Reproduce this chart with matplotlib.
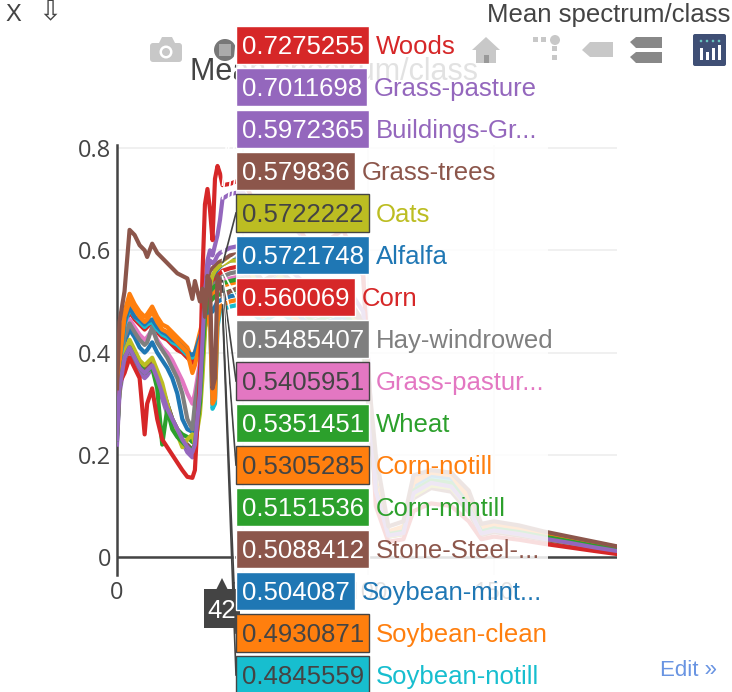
import matplotlib
matplotlib.use("Agg")
import matplotlib.pyplot as plt
from matplotlib.patches import Rectangle, Polygon, Circle, FancyBboxPatch
from matplotlib.lines import Line2D
from matplotlib.transforms import IdentityTransform

W, H = 732, 692

# band index of every sample point
bands = [0, 1, 3, 5, 7, 9, 11, 12, 14, 16, 18, 20, 22, 24, 26, 28, 30, 31, 33, 34,
         35, 36, 37, 38, 39, 40, 41, 42,
         45, 50, 58, 65, 78, 90, 98, 103, 108, 114, 118, 125, 133, 140, 145, 150,
         160, 170, 180, 190, 199]

alfalfa = [0.25, 0.35, 0.42, 0.445, 0.43, 0.41, 0.40, 0.405, 0.42, 0.40, 0.385, 0.37, 0.35, 0.32,
           0.27, 0.25, 0.245, 0.26, 0.33, 0.38, 0.45, 0.50, 0.53, 0.545, 0.555, 0.562, 0.568, 0.5721748,
           0.58, 0.585, 0.53, 0.55, 0.49, 0.51, 0.45, 0.13, 0.042, 0.048, 0.125, 0.145, 0.14, 0.098,
           0.048, 0.054, 0.047, 0.038, 0.03, 0.021, 0.014]
corn_notill = [0.30, 0.40, 0.48, 0.515, 0.495, 0.48, 0.47, 0.475, 0.49, 0.47, 0.455, 0.45, 0.44, 0.43,
               0.42, 0.41, 0.385, 0.40, 0.44, 0.46, 0.48, 0.50, 0.52, 0.51, 0.52, 0.525, 0.528, 0.5305285,
               0.535, 0.54, 0.50, 0.52, 0.47, 0.49, 0.44, 0.15, 0.05, 0.06, 0.15, 0.17, 0.165, 0.12,
               0.06, 0.066, 0.058, 0.047, 0.038, 0.028, 0.02]
corn_mintill = [0.24, 0.34, 0.40, 0.42, 0.40, 0.38, 0.37, 0.375, 0.385, 0.36, 0.33, 0.30, 0.27, 0.25,
                0.24, 0.235, 0.225, 0.23, 0.30, 0.38, 0.46, 0.49, 0.50, 0.505, 0.51, 0.512, 0.514, 0.5151536,
                0.52, 0.525, 0.48, 0.50, 0.45, 0.47, 0.42, 0.14, 0.048, 0.054, 0.14, 0.158, 0.152, 0.108,
                0.054, 0.06, 0.052, 0.042, 0.033, 0.024, 0.016]
corn = [0.27, 0.37, 0.45, 0.48, 0.465, 0.455, 0.445, 0.45, 0.46, 0.44, 0.43, 0.425, 0.415, 0.405,
        0.40, 0.39, 0.38, 0.39, 0.42, 0.445, 0.47, 0.50, 0.52, 0.53, 0.54, 0.55, 0.555, 0.560069,
        0.565, 0.57, 0.52, 0.55, 0.49, 0.51, 0.46, 0.14, 0.045, 0.05, 0.13, 0.15, 0.145, 0.10,
        0.05, 0.055, 0.048, 0.038, 0.03, 0.022, 0.015]
grass_pasture = [0.22, 0.32, 0.38, 0.405, 0.385, 0.36, 0.35, 0.355, 0.37, 0.345, 0.31, 0.28, 0.26, 0.245,
                 0.225, 0.205, 0.195, 0.21, 0.30, 0.40, 0.52, 0.58, 0.60, 0.59, 0.61, 0.63, 0.66, 0.7011698,
                 0.71, 0.715, 0.65, 0.68, 0.60, 0.62, 0.55, 0.13, 0.04, 0.045, 0.12, 0.14, 0.13, 0.09,
                 0.044, 0.05, 0.043, 0.034, 0.026, 0.018, 0.011]
grass_trees = [0.24, 0.33, 0.39, 0.41, 0.39, 0.37, 0.36, 0.37, 0.38, 0.355, 0.33, 0.30, 0.27, 0.25,
               0.23, 0.22, 0.21, 0.22, 0.30, 0.38, 0.48, 0.54, 0.56, 0.565, 0.57, 0.575, 0.578, 0.579836,
               0.59, 0.595, 0.54, 0.56, 0.50, 0.52, 0.46, 0.12, 0.04, 0.045, 0.115, 0.135, 0.128, 0.088,
               0.043, 0.049, 0.042, 0.034, 0.026, 0.018, 0.011]
grass_pasture_mowed = [0.27, 0.37, 0.44, 0.465, 0.45, 0.435, 0.425, 0.43, 0.445, 0.425, 0.41, 0.40, 0.385, 0.365,
                       0.345, 0.32, 0.30, 0.32, 0.38, 0.41, 0.46, 0.50, 0.52, 0.525, 0.53, 0.535, 0.538, 0.5405951,
                       0.545, 0.55, 0.50, 0.52, 0.46, 0.48, 0.42, 0.13, 0.045, 0.05, 0.13, 0.15, 0.145, 0.10,
                       0.05, 0.056, 0.049, 0.04, 0.031, 0.023, 0.015]
hay_windrowed = [0.26, 0.36, 0.43, 0.457, 0.44, 0.425, 0.415, 0.42, 0.45, 0.42, 0.405, 0.39, 0.37, 0.35,
                 0.32, 0.27, 0.25, 0.30, 0.37, 0.40, 0.46, 0.50, 0.52, 0.53, 0.535, 0.54, 0.545, 0.5485407,
                 0.555, 0.56, 0.51, 0.53, 0.47, 0.49, 0.43, 0.13, 0.045, 0.052, 0.135, 0.155, 0.15, 0.105,
                 0.052, 0.058, 0.05, 0.041, 0.032, 0.023, 0.016]
oats = [0.24, 0.33, 0.40, 0.425, 0.405, 0.385, 0.375, 0.38, 0.39, 0.365, 0.34, 0.30, 0.26, 0.24,
        0.215, 0.23, 0.24, 0.22, 0.28, 0.35, 0.44, 0.50, 0.53, 0.55, 0.56, 0.565, 0.57, 0.5722222,
        0.58, 0.58, 0.52, 0.55, 0.48, 0.50, 0.44, 0.12, 0.04, 0.046, 0.12, 0.14, 0.135, 0.095,
        0.046, 0.052, 0.045, 0.036, 0.028, 0.02, 0.013]
soybean_notill = [0.28, 0.37, 0.455, 0.485, 0.47, 0.46, 0.45, 0.455, 0.46, 0.445, 0.435, 0.43, 0.42, 0.415,
                  0.405, 0.395, 0.39, 0.395, 0.42, 0.435, 0.45, 0.47, 0.47, 0.29, 0.30, 0.45, 0.48, 0.4845559,
                  0.49, 0.495, 0.46, 0.48, 0.43, 0.45, 0.40, 0.14, 0.048, 0.055, 0.14, 0.158, 0.152, 0.108,
                  0.054, 0.06, 0.052, 0.042, 0.033, 0.024, 0.016]
soybean_mintill = [0.29, 0.38, 0.46, 0.49, 0.47, 0.465, 0.455, 0.46, 0.465, 0.45, 0.44, 0.435, 0.425, 0.42,
                   0.41, 0.40, 0.395, 0.40, 0.43, 0.445, 0.46, 0.48, 0.49, 0.48, 0.49, 0.50, 0.502, 0.504087,
                   0.51, 0.515, 0.48, 0.50, 0.45, 0.47, 0.42, 0.14, 0.048, 0.055, 0.14, 0.16, 0.155, 0.11,
                   0.055, 0.06, 0.053, 0.043, 0.034, 0.025, 0.017]
soybean_clean = [0.28, 0.38, 0.47, 0.50, 0.485, 0.47, 0.46, 0.465, 0.48, 0.46, 0.445, 0.44, 0.43, 0.42,
                 0.41, 0.40, 0.36, 0.375, 0.42, 0.435, 0.45, 0.47, 0.47, 0.30, 0.31, 0.46, 0.49, 0.4930871,
                 0.50, 0.505, 0.47, 0.49, 0.44, 0.46, 0.41, 0.14, 0.05, 0.058, 0.145, 0.165, 0.16, 0.115,
                 0.058, 0.064, 0.056, 0.045, 0.036, 0.027, 0.019]
wheat = [0.23, 0.33, 0.39, 0.41, 0.39, 0.37, 0.36, 0.365, 0.37, 0.33, 0.22, 0.29, 0.25, 0.235,
         0.225, 0.215, 0.21, 0.22, 0.30, 0.39, 0.47, 0.50, 0.52, 0.525, 0.53, 0.532, 0.534, 0.5351451,
         0.54, 0.545, 0.50, 0.52, 0.46, 0.48, 0.43, 0.13, 0.045, 0.05, 0.13, 0.15, 0.145, 0.10,
         0.05, 0.056, 0.049, 0.04, 0.031, 0.022, 0.015]
woods = [0.25, 0.34, 0.36, 0.39, 0.37, 0.35, 0.24, 0.30, 0.33, 0.27, 0.23, 0.215, 0.20, 0.185,
         0.17, 0.157, 0.155, 0.17, 0.35, 0.55, 0.69, 0.72, 0.68, 0.62, 0.74, 0.765, 0.75, 0.7275255,
         0.73, 0.74, 0.66, 0.70, 0.60, 0.64, 0.55, 0.10, 0.03, 0.035, 0.09, 0.105, 0.10, 0.07,
         0.035, 0.04, 0.034, 0.026, 0.019, 0.012, 0.006]
buildings = [0.23, 0.33, 0.39, 0.41, 0.39, 0.37, 0.36, 0.365, 0.375, 0.35, 0.32, 0.29, 0.27, 0.25,
             0.23, 0.215, 0.205, 0.22, 0.32, 0.42, 0.52, 0.56, 0.58, 0.575, 0.58, 0.59, 0.595, 0.5972365,
             0.605, 0.61, 0.56, 0.58, 0.52, 0.54, 0.48, 0.13, 0.042, 0.047, 0.125, 0.145, 0.138, 0.095,
             0.046, 0.052, 0.045, 0.036, 0.028, 0.019, 0.012]
stone_steel = [0.33, 0.46, 0.52, 0.64, 0.63, 0.61, 0.60, 0.587, 0.613, 0.595, 0.585, 0.575, 0.565, 0.555,
               0.55, 0.545, 0.505, 0.54, 0.50, 0.525, 0.47, 0.55, 0.54, 0.33, 0.35, 0.55, 0.54, 0.5088412,
               0.52, 0.53, 0.50, 0.51, 0.48, 0.49, 0.46, 0.20, 0.06, 0.07, 0.16, 0.17, 0.165, 0.13,
               0.065, 0.07, 0.062, 0.05, 0.04, 0.03, 0.021]

class_names = ["Alfalfa", "Corn-notill", "Corn-mintill", "Corn", "Grass-pasture", "Grass-trees",
               "Grass-pasture-mowed", "Hay-windrowed", "Oats", "Soybean-notill", "Soybean-mintill",
               "Soybean-clean", "Wheat", "Woods", "Buildings-Grass-Trees-Drives", "Stone-Steel-Towers"]
series = [alfalfa, corn_notill, corn_mintill, corn, grass_pasture, grass_trees, grass_pasture_mowed,
          hay_windrowed, oats, soybean_notill, soybean_mintill, soybean_clean, wheat, woods,
          buildings, stone_steel]

palette = ["#1f77b4", "#ff7f0e", "#2ca02c", "#d62728", "#9467bd",
           "#8c564b", "#e377c2", "#7f7f7f", "#bcbd22", "#17becf"]
light_bg = {"#ff7f0e", "#e377c2", "#bcbd22", "#17becf"}

hover_band = 42
x_ticks = [0, 50, 100, 150]
y_ticks = [0, 0.2, 0.4, 0.6, 0.8]
y_tick_labels = ["0", "0.2", "0.4", "0.6", "0.8"]

FONT = ["Liberation Sans", "DejaVu Sans"]
DARK = "#444444"
ident = IdentityTransform()


def short_name(name):
    return name[:12] + "..." if len(name) > 14 else name


fig = plt.figure(figsize=(W / 100, H / 100), dpi=100)
ax = fig.add_axes([117 / W, 1 - 575 / H, 500 / W, 430 / H])

for i, (name, vals) in enumerate(zip(class_names, series)):
    ax.plot(bands, vals, color=palette[i % 10], lw=3.0, solid_joinstyle="round", zorder=3)

ax.set_xlim(0, 199)
ax.set_ylim(-0.035, 0.806)
ax.set_xticks(x_ticks)
ax.set_xticklabels([str(t) for t in x_ticks])
ax.set_yticks(y_ticks)
ax.set_yticklabels(y_tick_labels)
ax.tick_params(length=0, labelsize=17, labelcolor=DARK, pad=4)
for lab in ax.get_xticklabels() + ax.get_yticklabels():
    lab.set_family("Open Sans")
ax.grid(True, color="#eeeeee", lw=1.2, zorder=0)
ax.axhline(0, color=DARK, lw=1.8, zorder=2)
for s in ["top", "right", "bottom"]:
    ax.spines[s].set_visible(False)
ax.spines["left"].set_color(DARK)
ax.spines["left"].set_linewidth(1.8)

# titles and small top texts
fig.text(190, H - 72, "Mean spectrum/class", transform=ident, fontsize=22, color=DARK,
         family=FONT, va="center", zorder=4)
fig.text(487, H - 15, "Mean spectrum/class", transform=ident, fontsize=18.5, color=DARK,
         family=FONT, va="center", zorder=4)
fig.text(5, H - 15, "X", transform=ident, fontsize=17, color=DARK, family=FONT, va="center")
fig.text(38, H - 13, "\u21e9", transform=ident, fontsize=20, color=DARK, family=FONT, va="center")

# faded area behind the hover names
fig.add_artist(Rectangle((236, 0), 312, H - 27, transform=ident, facecolor="white",
                         alpha=0.85, edgecolor="none", zorder=5))

# modebar icons
def P(pts, col, z=5.5):
    fig.add_artist(Polygon([(x, H - y) for x, y in pts], closed=True, transform=ident,
                           facecolor=col, edgecolor="none", zorder=z))

fig.add_artist(FancyBboxPatch((150, H - 62), 32, 19, boxstyle="round,pad=0,rounding_size=3",
                              transform=ident, facecolor="#c8c8c8", edgecolor="none", zorder=5.5))
P([(159, 43), (162, 37), (172, 37), (175, 43)], "#c8c8c8")
fig.add_artist(Circle((166, H - 52), 6.5, transform=ident, facecolor="white", zorder=5.6))
fig.add_artist(Circle((166, H - 52), 4, transform=ident, facecolor="#c8c8c8", zorder=5.7))
fig.add_artist(Circle((225, H - 50), 11, transform=ident, facecolor="#777777", zorder=5.5))
P([(219, 44), (231, 44), (231, 56), (219, 56)], "#aaaaaa", 5.6)
P([(472, 50), (486, 37), (500, 50)], "#c8c8c8")
P([(476, 50), (496, 50), (496, 63), (476, 63)], "#c8c8c8")
P([(484, 55), (489, 55), (489, 63), (484, 63)], "#999999", 5.6)
for x0, y0 in [(533, 37), (541, 37), (552, 46), (552, 55)]:
    P([(x0, y0), (x0 + 5, y0), (x0 + 5, y0 + 5), (x0, y0 + 5)], "#c8c8c8")
fig.add_artist(Circle((555, H - 40), 5, transform=ident, facecolor="#c8c8c8", zorder=5.5))
P([(582, 50), (590, 42), (613, 42), (613, 57), (590, 57)], "#c8c8c8")
P([(630, 42), (636, 37), (662, 37), (662, 48), (636, 48)], "#888888")
P([(630, 57), (636, 52), (662, 52), (662, 63), (636, 63)], "#888888")
fig.add_artist(FancyBboxPatch((693, H - 66), 33, 32, boxstyle="round,pad=0,rounding_size=2",
                              transform=ident, facecolor="#3f4f75", edgecolor="none", zorder=5.5))
for k, x0 in enumerate([700, 706, 712, 718]):
    fig.add_artist(Circle((x0 + 1, H - 41), 1.3, transform=ident, facecolor="#69c5c0", zorder=5.6))
    top = [48, 52, 48, 45][k]
    P([(x0, top), (x0 + 2.5, top), (x0 + 2.5, 60), (x0, 60)], "white", 5.6)

# x hover label
P([(216, 590), (222, 578), (228, 590)], DARK, 5.8)
P([(204, 589), (240, 589), (240, 628), (204, 628)], DARK, 5.8)
fig.text(207, H - 618, str(hover_band), transform=ident, fontsize=18.5, color="white",
         family=FONT, va="baseline", zorder=5.9)

# y hover labels, sorted by value
idx = bands.index(hover_band)
order = sorted(range(len(series)), key=lambda i: -series[i][idx])
fig.canvas.draw()
renderer = fig.canvas.get_renderer()
for row, i in enumerate(order):
    col = palette[i % 10]
    v = series[i][idx]
    yc = 45 + 42 * row
    dark_text = col in light_bg
    tcol = DARK if dark_text else "white"
    border = DARK if dark_text else "white"
    t = fig.text(242, H - yc - 9, f"{v:.7g}", transform=ident, fontsize=18.5, color=tcol,
                 family=FONT, va="baseline", zorder=7)
    w = t.get_window_extent(renderer).width
    x1 = 242 + w + 5
    fig.add_artist(Rectangle((236, H - yc - 19), x1 - 236, 38, transform=ident, facecolor=col,
                             edgecolor=border, lw=1, zorder=6))
    fig.text(x1 + 7, H - yc - 9, short_name(class_names[i]), transform=ident, fontsize=18.5,
             color=col, family=FONT, va="baseline", zorder=7)
    # connector from the label to its point, in the label's border colour
    px, py = ax.transData.transform((hover_band, v))
    fig.add_artist(Line2D([236, px], [H - yc, py], transform=ident, color=border, lw=1.2, zorder=5.7))

fig.text(660, H - 670, "Edit \u00bb", transform=ident, fontsize=16, color="#447adb",
         family=FONT, va="center", alpha=0.8)

fig.savefig("out.png", dpi=100)
